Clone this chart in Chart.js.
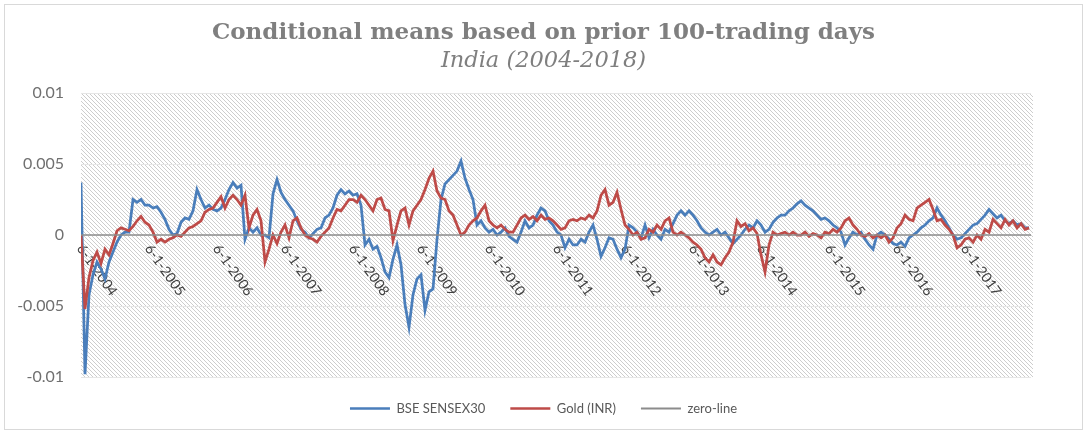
<!DOCTYPE html>
<html>
<head>
<meta charset="utf-8">
<title>Conditional means based on prior 100-trading days</title>
<script src="https://cdn.jsdelivr.net/npm/chart.js@4/dist/chart.umd.min.js"></script>
<style>
  html, body { margin: 0; padding: 0; background: #ffffff; }
  canvas { display: block; }
</style>
</head>
<body>
<canvas id="chart" width="1087" height="434"></canvas>
<script>
// Sampling: first observation on 1 June 2004, then 17 observations per year (about every three weeks).
const seriesStart = 2004 + 5 / 12;
const samplesPerYear = 17;
const axisSpanYears = 13.97;

// Tick labels on the date axis (1 June of each year).
const xTickLabels = [
  '6-1-2004', '6-1-2005', '6-1-2006', '6-1-2007', '6-1-2008', '6-1-2009', '6-1-2010',
  '6-1-2011', '6-1-2012', '6-1-2013', '6-1-2014', '6-1-2015', '6-1-2016', '6-1-2017'
];
const yTickValues = [-0.01, -0.005, 0, 0.005, 0.01];
const zeroLevel = 0;

// BSE SENSEX30: conditional mean of daily returns over the prior 100 trading days (one row per year from June).
const bseSensex30 = [
  0.0037, -0.0098, -0.0042, -0.0028, -0.0019, -0.0024, -0.0031, -0.0019, -0.0012, -0.0005, 0.0000, 0.0002, 0.0002, 0.0025, 0.0023, 0.0025, 0.0021,
  0.0021, 0.0019, 0.0020, 0.0016, 0.0011, 0.0004, 0.0000, 0.0001, 0.0009, 0.0012, 0.0011, 0.0017, 0.0032, 0.0025, 0.0019, 0.0021, 0.0018,
  0.0017, 0.0019, 0.0025, 0.0032, 0.0037, 0.0033, 0.0035, -0.0003, 0.0005, 0.0002, 0.0005, 0.0000, 0.0000, -0.0002, 0.0029, 0.0039, 0.0030,
  0.0025, 0.0021, 0.0017, 0.0010, 0.0004, 0.0002, -0.0002, 0.0001, 0.0004, 0.0005, 0.0012, 0.0014, 0.0019, 0.0028, 0.0032, 0.0029, 0.0031,
  0.0028, 0.0029, 0.0021, -0.0007, -0.0003, -0.0010, -0.0008, -0.0016, -0.0026, -0.0030, -0.0017, -0.0007, -0.0021, -0.0049, -0.0065, -0.0042, -0.0031,
  -0.0028, -0.0053, -0.0040, -0.0038, -0.0003, 0.0025, 0.0036, 0.0039, 0.0042, 0.0045, 0.0052, 0.0040, 0.0032, 0.0025, 0.0007, 0.0010, 0.0005,
  0.0002, 0.0004, 0.0000, 0.0002, 0.0005, -0.0001, -0.0003, -0.0005, 0.0002, 0.0010, 0.0005, 0.0007, 0.0014, 0.0019, 0.0017, 0.0010, 0.0007,
  0.0002, 0.0000, -0.0009, -0.0003, -0.0007, -0.0007, -0.0003, -0.0005, 0.0002, 0.0007, -0.0003, -0.0015, -0.0009, -0.0002, -0.0003, -0.0010, -0.0016,
  -0.0010, 0.0007, 0.0005, 0.0002, -0.0002, 0.0007, -0.0002, 0.0004, 0.0000, -0.0003, 0.0004, 0.0002, 0.0008, 0.0014, 0.0017, 0.0014, 0.0017,
  0.0014, 0.0010, 0.0005, 0.0002, 0.0000, 0.0002, 0.0004, 0.0000, 0.0002, -0.0002, -0.0006, -0.0003, 0.0000, 0.0004, 0.0007, 0.0005, 0.0010,
  0.0007, 0.0002, 0.0004, 0.0009, 0.0012, 0.0014, 0.0014, 0.0017, 0.0019, 0.0022, 0.0024, 0.0021, 0.0019, 0.0017, 0.0014, 0.0011, 0.0012,
  0.0010, 0.0007, 0.0005, 0.0002, -0.0007, -0.0002, 0.0002, 0.0000, 0.0002, -0.0003, -0.0007, -0.0010, 0.0000, 0.0002, 0.0000, -0.0003, -0.0006,
  -0.0007, -0.0005, -0.0008, -0.0002, 0.0000, 0.0002, 0.0005, 0.0007, 0.0010, 0.0012, 0.0019, 0.0014, 0.0010, 0.0005, 0.0000, -0.0003, -0.0002,
  0.0001, 0.0004, 0.0007, 0.0008, 0.0011, 0.0014, 0.0018, 0.0015, 0.0012, 0.0014, 0.0010, 0.0008, 0.0010, 0.0007, 0.0008, 0.0005, 0.0005
];

// Gold (INR): same conditional mean, same sampling dates.
const goldInr = [
  0.0000, -0.0052, -0.0030, -0.0018, -0.0012, -0.0020, -0.0010, -0.0014, -0.0006, 0.0003, 0.0005, 0.0004, 0.0003, 0.0006, 0.0010, 0.0013, 0.0009,
  0.0007, 0.0002, -0.0005, -0.0003, -0.0005, -0.0003, -0.0002, 0.0000, -0.0001, 0.0002, 0.0005, 0.0006, 0.0008, 0.0010, 0.0016, 0.0018, 0.0019,
  0.0023, 0.0027, 0.0019, 0.0025, 0.0028, 0.0025, 0.0021, 0.0028, 0.0005, 0.0014, 0.0018, 0.0010, -0.0019, -0.0010, 0.0000, -0.0006, 0.0002,
  0.0007, -0.0002, 0.0010, 0.0012, 0.0005, 0.0000, -0.0002, -0.0003, -0.0005, -0.0001, 0.0002, 0.0005, 0.0012, 0.0018, 0.0017, 0.0021, 0.0025,
  0.0025, 0.0023, 0.0028, 0.0025, 0.0021, 0.0017, 0.0025, 0.0026, 0.0018, 0.0017, -0.0004, 0.0007, 0.0017, 0.0019, 0.0007, 0.0017, 0.0021,
  0.0025, 0.0032, 0.0040, 0.0045, 0.0031, 0.0026, 0.0025, 0.0017, 0.0014, 0.0007, 0.0000, 0.0002, 0.0007, 0.0010, 0.0012, 0.0017, 0.0021,
  0.0010, 0.0007, 0.0005, 0.0007, 0.0004, 0.0002, 0.0002, 0.0007, 0.0012, 0.0014, 0.0011, 0.0013, 0.0010, 0.0014, 0.0011, 0.0012, 0.0010,
  0.0007, 0.0004, 0.0005, 0.0010, 0.0011, 0.0010, 0.0012, 0.0011, 0.0014, 0.0012, 0.0017, 0.0028, 0.0032, 0.0021, 0.0023, 0.0030, 0.0018,
  0.0007, 0.0004, 0.0000, 0.0002, -0.0003, -0.0002, 0.0004, 0.0002, 0.0007, 0.0004, 0.0010, 0.0012, 0.0002, 0.0000, 0.0002, 0.0000, -0.0002,
  -0.0005, -0.0007, -0.0010, -0.0016, -0.0019, -0.0014, -0.0019, -0.0021, -0.0016, -0.0012, -0.0005, 0.0010, 0.0006, 0.0008, 0.0003, 0.0005, 0.0001,
  -0.0014, -0.0026, -0.0007, 0.0002, 0.0000, 0.0001, 0.0002, 0.0000, 0.0002, 0.0000, 0.0000, 0.0002, -0.0001, 0.0001, 0.0000, -0.0002, 0.0002,
  0.0001, 0.0004, 0.0002, 0.0005, 0.0010, 0.0012, 0.0007, 0.0004, 0.0000, -0.0001, 0.0001, -0.0002, 0.0000, -0.0002, 0.0000, -0.0005, -0.0002,
  0.0005, 0.0008, 0.0014, 0.0011, 0.0010, 0.0019, 0.0021, 0.0023, 0.0025, 0.0018, 0.0010, 0.0011, 0.0007, 0.0004, 0.0000, -0.0009, -0.0007,
  -0.0003, -0.0002, -0.0005, 0.0000, -0.0003, 0.0004, 0.0002, 0.0011, 0.0008, 0.0005, 0.0011, 0.0007, 0.0010, 0.0005, 0.0008, 0.0004, 0.0005
];

const toPoints = values => values.map((v, i) => ({ x: seriesStart + i / samplesPerYear, y: v }));

// Diagonal hatch used as the plot-area fill.
function makeHatch(ctx) {
  const tile = document.createElement('canvas');
  tile.width = 8; tile.height = 8;
  const g = tile.getContext('2d');
  g.fillStyle = '#ffffff';
  g.fillRect(0, 0, 8, 8);
  g.strokeStyle = '#cdcdcd';
  g.lineWidth = 1;
  for (let k = -8; k <= 8; k += 4) {
    g.beginPath();
    g.moveTo(k, 0);
    g.lineTo(k + 8, 8);
    g.stroke();
  }
  return ctx.createPattern(tile, 'repeat');
}

const chartFrame = {
  id: 'chartFrame',
  beforeDraw(chart) {
    const { ctx, chartArea: a } = chart;
    ctx.save();
    ctx.fillStyle = '#ffffff';
    ctx.fillRect(0, 0, chart.width, chart.height);
    ctx.strokeStyle = '#d9d9d9';
    ctx.lineWidth = 1;
    ctx.strokeRect(4.5, 4.5, chart.width - 9, chart.height - 9);
    ctx.fillStyle = makeHatch(ctx);
    ctx.fillRect(a.left, a.top, a.right - a.left + 2, a.bottom - a.top);
    ctx.restore();
  }
};

// Date labels hang below the zero line, rotated clockwise from each tick.
const dateLabels = {
  id: 'dateLabels',
  beforeDatasetsDraw(chart) {
    const { ctx, scales: { x, y } } = chart;
    const baseY = y.getPixelForValue(zeroLevel);
    ctx.save();
    ctx.font = '14px Lato';
    ctx.fillStyle = '#404040';
    ctx.textAlign = 'left';
    ctx.textBaseline = 'middle';
    xTickLabels.forEach((label, k) => {
      const px = x.getPixelForValue(seriesStart + k);
      ctx.save();
      ctx.translate(px - 1, baseY + 11);
      ctx.rotate(55 * Math.PI / 180);
      ctx.fillText(label, 0, 0);
      ctx.restore();
    });
    ctx.restore();
  }
};

Chart.defaults.font.family = 'Lato';

new Chart(document.getElementById('chart'), {
  type: 'line',
  data: {
    datasets: [
      {
        label: 'BSE SENSEX30',
        data: toPoints(bseSensex30),
        borderColor: '#4a7ebb',
        borderWidth: 2.75,
        pointRadius: 0,
        pointBorderWidth: 2.5,
        tension: 0,
        order: 2
      },
      {
        label: 'Gold (INR)',
        data: toPoints(goldInr),
        borderColor: '#be4b48',
        borderWidth: 2.75,
        pointRadius: 0,
        pointBorderWidth: 2.5,
        tension: 0,
        order: 1
      },
      {
        label: 'zero-line',
        data: [
          { x: seriesStart, y: zeroLevel },
          { x: seriesStart + axisSpanYears, y: zeroLevel }
        ],
        borderColor: '#8c8c8c',
        borderWidth: 1.5,
        pointRadius: 0,
        pointBorderWidth: 2,
        tension: 0,
        order: 0
      }
    ]
  },
  options: {
    responsive: false,
    animation: false,
    events: [],
    layout: { padding: { top: 0, left: 0, right: 0, bottom: 9 } },
    scales: {
      x: {
        type: 'linear',
        min: seriesStart,
        max: seriesStart + axisSpanYears,
        display: false
      },
      y: {
        type: 'linear',
        min: -0.01,
        max: 0.01,
        afterBuildTicks: scale => { scale.ticks = yTickValues.map(v => ({ value: v })); },
        afterFit: scale => { scale.width = 81; },
        ticks: {
          padding: 17,
          color: '#707070',
          font: { size: 16 },
          callback: v => String(Math.round(v * 1000) / 1000)
        },
        grid: { color: '#e6e6e6', lineWidth: 1, drawTicks: false },
        border: { display: false }
      },
      yRight: {
        type: 'linear',
        position: 'right',
        display: true,
        afterFit: scale => { scale.width = 56; },
        ticks: { display: false },
        grid: { display: false, drawTicks: false },
        border: { display: false }
      }
    },
    plugins: {
      title: {
        display: true,
        text: 'Conditional means based on prior 100-trading days',
        color: '#7f7f7f',
        font: { family: 'DejaVu Serif', size: 23, weight: 'bold' },
        padding: { top: 19.2, bottom: 0.7 }
      },
      subtitle: {
        display: true,
        text: 'India (2004-2018)',
        color: '#7f7f7f',
        font: { family: 'DejaVu Serif', size: 22.5, style: 'italic' },
        padding: { top: 0, bottom: 18.5 }
      },
      legend: {
        position: 'bottom',
        labels: {
          usePointStyle: true,
          pointStyle: 'line',
          pointStyleWidth: 40,
          padding: 25,
          color: '#595959',
          font: { size: 13 },
          sort: (a, b) => a.datasetIndex - b.datasetIndex
        }
      },
      tooltip: { enabled: false }
    }
  },
  plugins: [chartFrame, dateLabels]
});
</script>
</body>
</html>
